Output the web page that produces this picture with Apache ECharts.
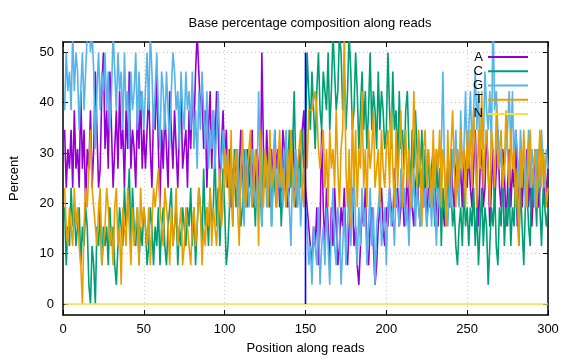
<!DOCTYPE html>
<html>
<head>
<meta charset="utf-8">
<script src="https://cdn.jsdelivr.net/npm/echarts@6/dist/echarts.min.js"></script>
<style>html,body{margin:0;padding:0;background:#fff;}#chart{width:576px;height:360px;}</style>
</head>
<body>
<div id="chart"></div>
<script>
const chartTitle = 'Base percentage composition along reads';
const xName = 'Position along reads';
const yName = 'Percent';
const seriesNames = ['A', 'C', 'G', 'T', 'N'];
const xTicks = [0, 50, 100, 150, 200, 250, 300];
const yTicks = [0, 10, 20, 30, 40, 50];
const splitPosition = 150;
const splitRange = [0, 50];

const baseA = [
34.6,23.1,30.8,26.9,34.6,23.1,38.5,26.9,30.8,23.1,42.3,26.9,34.6,19.2,30.8,26.9,38.5,23.1,30.8,46.2,34.6,23.1,26.9,42.3,50,
30.8,38.5,26.9,46.2,34.6,23.1,30.8,38.5,26.9,42.3,30.8,34.6,23.1,38.5,30.8,46.2,26.9,34.6,30.8,23.1,38.5,30.8,42.3,26.9,34.6,
26.9,34.6,42.3,30.8,23.1,38.5,34.6,46.2,30.8,19.2,34.6,26.9,38.5,30.8,23.1,42.3,34.6,26.9,38.5,30.8,23.1,34.6,42.3,26.9,30.8,
34.6,23.1,38.5,30.8,42.3,34.6,46.2,53.8,46.2,38.5,42.3,30.8,38.5,23.1,34.6,42.3,26.9,38.5,30.8,42.3,34.6,23.1,30.8,38.5,26.9,
34.6,23.1,30.8,19.2,26.9,23.1,30.8,19.2,26.9,34.6,23.1,26.9,19.2,30.8,23.1,26.9,34.6,19.2,23.1,30.8,26.9,19.2,50,30.8,23.1,
34.6,26.9,19.2,30.8,23.1,34.6,26.9,30.8,19.2,23.1,34.6,30.8,26.9,19.2,23.1,30.8,34.6,26.9,19.2,23.1,30.8,26.9,34.6,38.5,23.1,
19.2,15.4,11.5,7.7,15.4,11.5,19.2,7.7,15.4,34.6,19.2,11.5,23.1,15.4,7.7,19.2,11.5,23.1,15.4,7.7,11.5,19.2,15.4,23.1,11.5,
7.7,15.4,19.2,23.1,11.5,15.4,7.7,3.8,11.5,19.2,15.4,23.1,11.5,7.7,15.4,19.2,11.5,3.8,7.7,15.4,19.2,23.1,15.4,11.5,19.2,
15.4,23.1,19.2,15.4,26.9,19.2,23.1,15.4,19.2,23.1,15.4,19.2,26.9,15.4,23.1,19.2,15.4,23.1,26.9,19.2,15.4,23.1,19.2,26.9,15.4,
23.1,19.2,26.9,30.8,23.1,19.2,15.4,26.9,23.1,19.2,15.4,23.1,26.9,19.2,30.8,23.1,19.2,26.9,30.8,23.1,26.9,19.2,30.8,26.9,23.1,
30.8,23.1,19.2,26.9,34.6,23.1,15.4,26.9,30.8,19.2,23.1,34.6,26.9,15.4,23.1,30.8,19.2,26.9,34.6,23.1,19.2,30.8,26.9,15.4,23.1,
30.8,19.2,26.9,23.1,34.6,15.4,23.1,30.8,19.2,26.9,23.1,30.8,19.2,26.9,15.4,23.1,30.8,26.9,19.2,23.1,26.9,30.8,19.2,23.1,26.9
];
const baseC = [
19.2,7.7,15.4,11.5,23.1,15.4,19.2,11.5,15.4,19.2,7.7,15.4,11.5,19.2,15.4,3.8,0,11.5,7.7,0,15.4,11.5,19.2,7.7,15.4,
11.5,15.4,7.7,19.2,11.5,15.4,7.7,3.8,11.5,19.2,15.4,11.5,23.1,15.4,19.2,26.9,11.5,23.1,15.4,11.5,19.2,7.7,15.4,11.5,19.2,
15.4,7.7,11.5,19.2,15.4,7.7,15.4,11.5,19.2,7.7,15.4,19.2,11.5,7.7,15.4,19.2,23.1,11.5,15.4,19.2,7.7,15.4,11.5,19.2,15.4,
11.5,19.2,15.4,23.1,11.5,19.2,7.7,15.4,23.1,19.2,11.5,26.9,15.4,19.2,11.5,23.1,15.4,19.2,30.8,15.4,23.1,11.5,19.2,26.9,19.2,
7.7,11.5,19.2,26.9,15.4,30.8,19.2,23.1,26.9,15.4,19.2,30.8,23.1,19.2,26.9,30.8,19.2,23.1,15.4,26.9,19.2,23.1,15.4,30.8,26.9,
23.1,19.2,30.8,15.4,26.9,23.1,19.2,30.8,26.9,15.4,23.1,30.8,19.2,26.9,34.6,23.1,30.8,42.3,26.9,19.2,30.8,23.1,34.6,26.9,30.8,
50,42.3,34.6,46.2,38.5,30.8,42.3,50,38.5,34.6,46.2,42.3,38.5,50,34.6,42.3,53.8,46.2,38.5,42.3,53.8,50,38.5,46.2,34.6,
42.3,53.8,46.2,34.6,38.5,50,42.3,30.8,38.5,46.2,34.6,42.3,30.8,38.5,50,34.6,42.3,38.5,30.8,46.2,34.6,42.3,38.5,30.8,34.6,
50,38.5,30.8,46.2,34.6,38.5,26.9,42.3,30.8,34.6,26.9,38.5,42.3,30.8,23.1,34.6,26.9,38.5,30.8,23.1,26.9,34.6,19.2,30.8,23.1,
30.8,19.2,26.9,23.1,15.4,30.8,19.2,26.9,11.5,23.1,19.2,15.4,26.9,19.2,23.1,15.4,19.2,11.5,7.7,15.4,19.2,11.5,23.1,15.4,19.2,
11.5,19.2,15.4,23.1,11.5,19.2,7.7,15.4,23.1,11.5,19.2,15.4,3.8,11.5,19.2,15.4,23.1,11.5,7.7,19.2,15.4,26.9,11.5,19.2,15.4,
23.1,11.5,19.2,15.4,26.9,19.2,11.5,23.1,15.4,7.7,19.2,23.1,15.4,11.5,26.9,19.2,23.1,15.4,30.8,19.2,11.5,23.1,19.2,15.4,19.2
];
const baseG = [
38.5,50,42.3,46.2,38.5,53.8,42.3,50,46.2,34.6,42.3,50,38.5,46.2,53.8,57.7,50,53.8,46.2,30.8,42.3,50,38.5,46.2,42.3,
50,38.5,46.2,34.6,42.3,53.8,46.2,38.5,50,42.3,46.2,34.6,50,38.5,42.3,30.8,46.2,38.5,42.3,50,34.6,46.2,38.5,42.3,34.6,
42.3,50,38.5,53.8,46.2,34.6,42.3,50,38.5,30.8,46.2,42.3,34.6,46.2,38.5,30.8,42.3,50,46.2,38.5,42.3,30.8,46.2,38.5,34.6,
46.2,38.5,42.3,34.6,46.2,30.8,38.5,26.9,42.3,34.6,46.2,38.5,30.8,42.3,26.9,34.6,30.8,38.5,26.9,34.6,42.3,30.8,26.9,34.6,30.8,
30.8,26.9,23.1,30.8,19.2,26.9,23.1,30.8,19.2,26.9,23.1,15.4,30.8,26.9,19.2,23.1,30.8,26.9,19.2,23.1,42.3,26.9,15.4,23.1,30.8,
19.2,26.9,30.8,15.4,23.1,34.6,19.2,26.9,23.1,30.8,19.2,26.9,34.6,23.1,19.2,11.5,26.9,23.1,30.8,19.2,26.9,15.4,23.1,26.9,19.2,
15.4,7.7,11.5,3.8,15.4,11.5,7.7,19.2,3.8,11.5,15.4,7.7,19.2,11.5,3.8,15.4,23.1,11.5,7.7,19.2,15.4,3.8,11.5,19.2,7.7,
15.4,23.1,11.5,19.2,26.9,15.4,7.7,19.2,11.5,23.1,15.4,19.2,7.7,15.4,23.1,11.5,19.2,3.8,15.4,19.2,23.1,11.5,15.4,19.2,7.7,
19.2,23.1,15.4,19.2,11.5,23.1,19.2,15.4,26.9,19.2,23.1,15.4,19.2,11.5,23.1,19.2,26.9,15.4,23.1,19.2,15.4,26.9,19.2,23.1,15.4,
19.2,23.1,15.4,26.9,19.2,11.5,23.1,19.2,30.8,46.2,26.9,19.2,15.4,23.1,19.2,30.8,26.9,34.6,23.1,19.2,38.5,26.9,30.8,42.3,26.9,
34.6,42.3,30.8,38.5,46.2,34.6,42.3,26.9,38.5,30.8,46.2,38.5,34.6,42.3,30.8,57.7,38.5,42.3,34.6,26.9,30.8,23.1,26.9,30.8,34.6,
42.3,30.8,42.3,26.9,34.6,30.8,23.1,34.6,26.9,30.8,19.2,26.9,34.6,23.1,30.8,26.9,19.2,30.8,26.9,23.1,34.6,26.9,23.1,30.8,26.9
];
const baseT = [
23.1,15.4,11.5,19.2,15.4,11.5,23.1,15.4,19.2,11.5,7.7,0,15.4,23.1,19.2,26.9,34.6,23.1,19.2,15.4,11.5,19.2,23.1,7.7,11.5,
15.4,23.1,19.2,11.5,15.4,7.7,19.2,23.1,11.5,15.4,3.8,19.2,15.4,11.5,23.1,15.4,7.7,19.2,11.5,15.4,19.2,7.7,23.1,15.4,19.2,
15.4,11.5,19.2,7.7,15.4,23.1,19.2,19.2,26.9,19.2,15.4,11.5,23.1,19.2,15.4,7.7,19.2,11.5,15.4,23.1,11.5,15.4,19.2,7.7,11.5,
19.2,15.4,11.5,7.7,15.4,19.2,11.5,15.4,23.1,19.2,7.7,15.4,11.5,19.2,15.4,23.1,11.5,19.2,15.4,11.5,19.2,26.9,15.4,19.2,30.8,
23.1,30.8,19.2,34.6,15.4,26.9,30.8,19.2,11.5,26.9,34.6,23.1,19.2,26.9,26.9,34.6,19.2,23.1,30.8,26.9,11.5,34.6,23.1,19.2,30.8,
26.9,19.2,34.6,23.1,26.9,30.8,19.2,26.9,34.6,23.1,26.9,26.9,19.2,30.8,23.1,34.6,26.9,19.2,23.1,26.9,30.8,34.6,23.1,19.2,34.6,
26.9,38.5,38.5,38.5,38.5,42.3,38.5,30.8,26.9,26.9,34.6,23.1,30.8,19.2,34.6,26.9,30.8,23.1,38.5,26.9,19.2,30.8,34.6,53.8,26.9,
19.2,30.8,15.4,38.5,23.1,34.6,19.2,30.8,26.9,42.3,23.1,30.8,19.2,34.6,26.9,30.8,38.5,23.1,26.9,30.8,19.2,34.6,26.9,23.1,30.8,
34.6,23.1,38.5,26.9,19.2,34.6,23.1,30.8,38.5,19.2,26.9,34.6,23.1,30.8,19.2,26.9,42.3,30.8,23.1,34.6,26.9,15.4,30.8,34.6,23.1,
30.8,26.9,19.2,34.6,23.1,30.8,26.9,34.6,19.2,30.8,26.9,15.4,34.6,23.1,30.8,38.5,26.9,19.2,30.8,23.1,34.6,26.9,30.8,19.2,34.6,
26.9,34.6,23.1,38.5,30.8,19.2,34.6,26.9,42.3,23.1,30.8,34.6,26.9,19.2,34.6,30.8,23.1,38.5,26.9,30.8,34.6,23.1,26.9,38.5,30.8,
23.1,34.6,26.9,30.8,19.2,26.9,11.5,30.8,23.1,34.6,26.9,19.2,30.8,34.6,23.1,26.9,30.8,19.2,26.9,34.6,23.1,30.8,26.9,19.2,23.1
];
const baseN = [
0,0,0,0,0,0,0,0,0,0,0,0,0,0,0,0,0,0,0,0,0,0,0,0,0,
0,0,0,0,0,0,0,0,0,0,0,0,0,0,0,0,0,0,0,0,0,0,0,0,0,
0,0,0,0,0,0,0,0,0,0,0,0,0,0,0,0,0,0,0,0,0,0,0,0,0,
0,0,0,0,0,0,0,0,0,0,0,0,0,0,0,0,0,0,0,0,0,0,0,0,0,
0,0,0,0,0,0,0,0,0,0,0,0,0,0,0,0,0,0,0,0,0,0,0,0,0,
0,0,0,0,0,0,0,0,0,0,0,0,0,0,0,0,0,0,0,0,0,0,0,0,0,
0,0,0,0,0,0,0,0,0,0,0,0,0,0,0,0,0,0,0,0,0,0,0,0,0,
0,0,0,0,0,0,0,0,0,0,0,0,0,0,0,0,0,0,0,0,0,0,0,0,0,
0,0,0,0,0,0,0,0,0,0,0,0,0,0,0,0,0,0,0,0,0,0,0,0,0,
0,0,0,0,0,0,0,0,0,0,0,0,0,0,0,0,0,0,0,0,0,0,0,0,0,
0,0,0,0,0,0,0,0,0,0,0,0,0,0,0,0,0,0,0,0,0,0,0,0,0,
0,0,0,0,0,0,0,0,0,0,0,0,0,0,0,0,0,0,0,0,0,0,0,0,0
];

const colors = ['#9400d3', '#009e73', '#56b4e9', '#e69f00', '#f0e442'];
const allData = [baseA, baseC, baseG, baseT, baseN];
const FONT = 'Liberation Sans, Arial, sans-serif';

function toPairs(arr) { return arr.map((v, i) => [i + 1, v]); }

const chart = echarts.init(document.getElementById('chart'), null, {renderer: 'canvas'});

const axisLineStyle = {color: '#000', width: 1.5};
const gridStyle = {color: '#c8c8c8', type: [1, 3], width: 1};

const xCommon = {
  type: 'value', min: 0, max: 300, interval: 50,
  axisLine: {show: true, lineStyle: axisLineStyle, onZero: false},
  axisTick: {show: true, inside: true, length: 5, lineStyle: {color: '#000', width: 1}},
};
const yCommon = {
  type: 'value', min: -2.2, max: 52.07,
  axisLine: {show: true, lineStyle: axisLineStyle, onZero: false},
  axisTick: {show: true, inside: true, length: 5, customValues: yTicks, lineStyle: {color: '#000', width: 1}},
};

const series = seriesNames.map((name, k) => ({
  name: name, type: 'line', data: toPairs(allData[k]),
  showSymbol: false, symbol: 'none', animation: false,
  lineStyle: {color: colors[k], width: 1.6}, itemStyle: {color: colors[k]},
  z: 2 + k
}));
series.push({
  name: 'split', type: 'line',
  data: [[splitPosition, splitRange[0]], [splitPosition, splitRange[1]]],
  showSymbol: false, symbol: 'none', animation: false,
  lineStyle: {color: '#0000ff', width: 1.6}, z: 10
});

chart.setOption({
  animation: false,
  backgroundColor: '#fff',
  title: {
    text: chartTitle, left: 305, top: 12, textAlign: 'center',
    textStyle: {fontFamily: FONT, fontSize: 13, fontWeight: 'normal', color: '#000'}
  },
  legend: {
    data: seriesNames, orient: 'vertical', right: 43, top: 45, z: 20,
    align: 'right', itemWidth: 40, itemHeight: 2, itemGap: 0, icon: 'rect',
    textStyle: {fontFamily: FONT, fontSize: 13, color: '#000', lineHeight: 14.2},
    selectedMode: false
  },
  grid: {left: 62, right: 28, top: 42, bottom: 45, containLabel: false},
  xAxis: [
    Object.assign({}, xCommon, {
      position: 'bottom',
      name: xName, nameLocation: 'middle', nameGap: 27,
      nameTextStyle: {fontFamily: FONT, fontSize: 13, color: '#000'},
      axisLabel: {show: true, margin: 8, fontFamily: FONT, fontSize: 13, color: '#000'},
      splitLine: {show: true, lineStyle: gridStyle}
    }),
    Object.assign({}, xCommon, {position: 'top', axisLabel: {show: false}, splitLine: {show: false}})
  ],
  yAxis: [
    Object.assign({}, yCommon, {
      position: 'left',
      name: yName, nameLocation: 'middle', nameGap: 42, nameRotate: 90,
      nameTextStyle: {fontFamily: FONT, fontSize: 13, color: '#000'},
      axisLabel: {show: true, margin: 9, customValues: yTicks, fontFamily: FONT, fontSize: 13, color: '#000'},
      splitLine: {show: true, lineStyle: gridStyle}
    }),
    Object.assign({}, yCommon, {position: 'right', axisLabel: {show: false}, splitLine: {show: false}})
  ],
  series: series
});
</script>
</body>
</html>
